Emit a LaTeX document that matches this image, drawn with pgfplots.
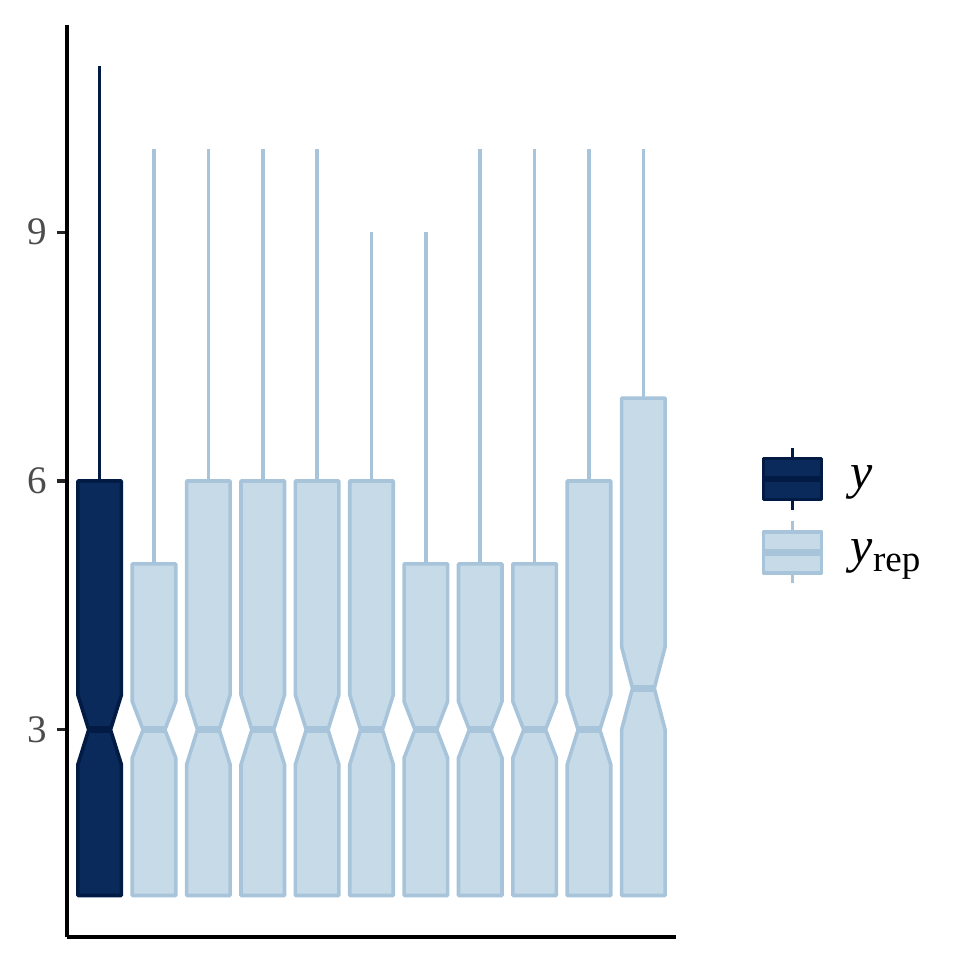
\documentclass[border=0pt]{standalone}
\usepackage{fontspec}
\setmainfont{Liberation Serif}
\usepackage{pgfplots}
\pgfplotsset{compat=1.18}
\definecolor{yfill}{HTML}{0A2A5C}
\definecolor{yline}{HTML}{021B45}
\definecolor{rfill}{HTML}{C7DAE8}
\definecolor{rline}{HTML}{A8C4DA}
\pgfplotsset{
  ybox/.style={draw=yline, fill=yfill, line width=1.8pt, line join=round, forget plot},
  rbox/.style={draw=rline, fill=rfill, line width=1.8pt, line join=round, forget plot},
  ywhisk/.style={draw=yline, line width=1.8pt, forget plot},
  rwhisk/.style={draw=rline, line width=1.8pt, forget plot},
  ymed/.style={draw=yline, line width=3.6pt, forget plot},
  rmed/.style={draw=rline, line width=3.6pt, forget plot},
}
\begin{document}
\begin{tikzpicture}
\begin{axis}[
  scale only axis, width=304.5pt, height=456pt,
  xmin=0.4, xmax=11.6, ymin=0.5, ymax=11.5,
  axis lines=left, axis line style={-, line width=2pt, black},
  xtick=\empty, ytick={3,6,9},
  tick align=outside, major tick length=5pt,
  tick style={line width=1.6pt, black!85},
  /pgf/number format/assume math mode=true,
  yticklabel style={font=\fontsize{19.5}{22}\selectfont, text=black!70, xshift=-1.5pt},
  legend style={at={(axis description cs:1,0.462)}, anchor=west, xshift=42pt,
    draw=none, fill=none, inner sep=0pt, column sep=13pt, row sep=4pt,
    nodes={inner sep=0pt, anchor=west}, font=\fontsize{25}{28}\selectfont},
  legend cell align=left,
]
\coordinate (O) at (rel axis cs:0,0);
\addlegendimage{legend image code/.code={
  \draw[yline, line width=1.8pt] (14.5pt,-15.5pt) -- (14.5pt,15.5pt);
  \draw[yline, fill=yfill, line width=1.8pt, line join=round] (0pt,-10.25pt) rectangle (29pt,10.25pt);
  \draw[yline, line width=3.2pt] (0pt,0pt) -- (29pt,0pt);
}}
\addlegendentry{\textit{y}}
\addlegendimage{legend image code/.code={
  \draw[rline, line width=1.8pt] (14.5pt,-15.5pt) -- (14.5pt,15.5pt);
  \draw[rline, fill=rfill, line width=1.8pt, line join=round] (0pt,-10.25pt) rectangle (29pt,10.25pt);
  \draw[rline, line width=3.2pt] (0pt,0pt) -- (29pt,0pt);
}}
\addlegendentry{\textit{y}\raisebox{-4.5pt}{\fontsize{18.5}{20}\selectfont rep}}

% box 1: observed y
\addplot[ywhisk] coordinates {(1,6) (1,11)};
\addplot[ybox] coordinates {(0.6,1) (1.4,1) (1.4,2.58) (1.2,3) (1.4,3.42) (1.4,6) (0.6,6) (0.6,3.42) (0.8,3) (0.6,2.58)} --cycle;
\addplot[ymed] coordinates {(0.8,3) (1.2,3)};
% box 2
\addplot[rwhisk] coordinates {(2,5) (2,10)};
\addplot[rbox] coordinates {(1.6,1) (2.4,1) (2.4,2.66) (2.2,3) (2.4,3.34) (2.4,5) (1.6,5) (1.6,3.34) (1.8,3) (1.6,2.66)} --cycle;
\addplot[rmed] coordinates {(1.8,3) (2.2,3)};
% box 3
\addplot[rwhisk] coordinates {(3,6) (3,10)};
\addplot[rbox] coordinates {(2.6,1) (3.4,1) (3.4,2.58) (3.2,3) (3.4,3.42) (3.4,6) (2.6,6) (2.6,3.42) (2.8,3) (2.6,2.58)} --cycle;
\addplot[rmed] coordinates {(2.8,3) (3.2,3)};
% box 4
\addplot[rwhisk] coordinates {(4,6) (4,10)};
\addplot[rbox] coordinates {(3.6,1) (4.4,1) (4.4,2.58) (4.2,3) (4.4,3.42) (4.4,6) (3.6,6) (3.6,3.42) (3.8,3) (3.6,2.58)} --cycle;
\addplot[rmed] coordinates {(3.8,3) (4.2,3)};
% box 5
\addplot[rwhisk] coordinates {(5,6) (5,10)};
\addplot[rbox] coordinates {(4.6,1) (5.4,1) (5.4,2.58) (5.2,3) (5.4,3.42) (5.4,6) (4.6,6) (4.6,3.42) (4.8,3) (4.6,2.58)} --cycle;
\addplot[rmed] coordinates {(4.8,3) (5.2,3)};
% box 6
\addplot[rwhisk] coordinates {(6,6) (6,9)};
\addplot[rbox] coordinates {(5.6,1) (6.4,1) (6.4,2.58) (6.2,3) (6.4,3.42) (6.4,6) (5.6,6) (5.6,3.42) (5.8,3) (5.6,2.58)} --cycle;
\addplot[rmed] coordinates {(5.8,3) (6.2,3)};
% box 7
\addplot[rwhisk] coordinates {(7,5) (7,9)};
\addplot[rbox] coordinates {(6.6,1) (7.4,1) (7.4,2.66) (7.2,3) (7.4,3.34) (7.4,5) (6.6,5) (6.6,3.34) (6.8,3) (6.6,2.66)} --cycle;
\addplot[rmed] coordinates {(6.8,3) (7.2,3)};
% box 8
\addplot[rwhisk] coordinates {(8,5) (8,10)};
\addplot[rbox] coordinates {(7.6,1) (8.4,1) (8.4,2.66) (8.2,3) (8.4,3.34) (8.4,5) (7.6,5) (7.6,3.34) (7.8,3) (7.6,2.66)} --cycle;
\addplot[rmed] coordinates {(7.8,3) (8.2,3)};
% box 9
\addplot[rwhisk] coordinates {(9,5) (9,10)};
\addplot[rbox] coordinates {(8.6,1) (9.4,1) (9.4,2.66) (9.2,3) (9.4,3.34) (9.4,5) (8.6,5) (8.6,3.34) (8.8,3) (8.6,2.66)} --cycle;
\addplot[rmed] coordinates {(8.8,3) (9.2,3)};
% box 10
\addplot[rwhisk] coordinates {(10,6) (10,10)};
\addplot[rbox] coordinates {(9.6,1) (10.4,1) (10.4,2.58) (10.2,3) (10.4,3.42) (10.4,6) (9.6,6) (9.6,3.42) (9.8,3) (9.6,2.58)} --cycle;
\addplot[rmed] coordinates {(9.8,3) (10.2,3)};
% box 11
\addplot[rwhisk] coordinates {(11,7) (11,10)};
\addplot[rbox] coordinates {(10.6,1) (11.4,1) (11.4,3) (11.2,3.5) (11.4,4) (11.4,7) (10.6,7) (10.6,4) (10.8,3.5) (10.6,3)} --cycle;
\addplot[rmed] coordinates {(10.8,3.5) (11.2,3.5)};
\end{axis}
\pgfresetboundingbox
\path (O) ++(-33.5pt,-19pt) rectangle ++(487.5pt,487.5pt);
\end{tikzpicture}
\end{document}
